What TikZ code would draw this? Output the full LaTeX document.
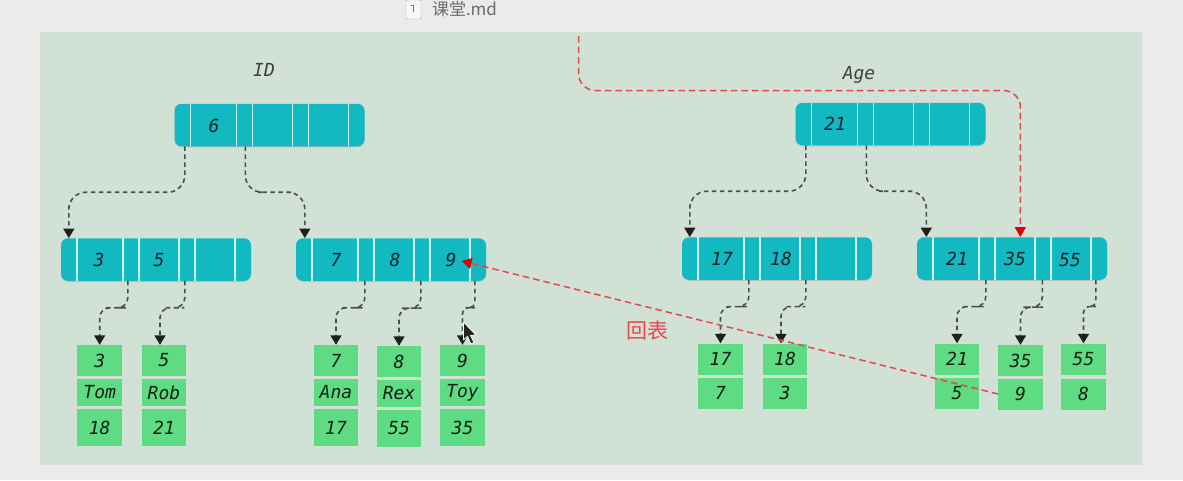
\documentclass[tikz,border=0pt]{standalone}
\usepackage{fontspec}
\setmonofont{DejaVu Sans Mono}
\newfontfamily\cjk{Noto Sans CJK SC}
\usetikzlibrary{arrows.meta,calc,shadows}

\definecolor{panelgreen}{HTML}{D1E1D6}
\definecolor{pagegray}{HTML}{EBEBEB}
\definecolor{pagecyan}{HTML}{12B9C1}
\definecolor{cellgreen}{HTML}{5FDB84}
\definecolor{ptrgray}{HTML}{4A4F4D}
\definecolor{backred}{HTML}{E8474A}

\tikzset{
  pagebox/.style={fill=pagecyan,rounded corners=7pt,minimum width=190pt,minimum height=42.5pt,
    inner sep=0pt,drop shadow={shadow xshift=0pt,shadow yshift=-1pt,opacity=.3}},
  keytext/.style={font=\ttfamily\itshape\fontsize{18}{20}\selectfont,text=black!80!pagecyan,inner sep=0pt},
  cellbox/.style={fill=cellgreen,minimum width=44.5pt,minimum height=#1,inner sep=0pt,
    font=\ttfamily\itshape\fontsize{18}{20}\selectfont,text=black!85!cellgreen},
  ptr/.style 2 args={draw=ptrgray,line width=1.6pt,dash pattern=on 4.5pt off 3.5pt,
    -{Triangle[width=11pt,length=9.5pt,color=black!88]},
    to path={[rounded corners=#1] (\tikztostart) |- ($(\tikztostart)!#2!(\tikztotarget)$) -| (\tikztotarget)}},
  rootptr/.style={ptr={17pt}{0.5}},
  leafptr/.style={ptr={10pt}{0.42}},
  tightptr/.style={ptr={5.5pt}{0.42}},
  backptr/.style={draw=backred,line width=1.5pt,dash pattern=on 6.5pt off 4pt,
    -{Triangle[width=11pt,length=10pt,color=red!90!black]}}
}

\begin{document}
\begin{tikzpicture}[x=1pt,y=-1pt]
  \useasboundingbox (0,0) rectangle (1183,480);
  \fill[pagegray] (0,0) rectangle (1183,480);
  \node[fill=panelgreen,minimum width=1102pt,minimum height=433pt,inner sep=0pt] (panel) at (591,248.5) {};

  % open file tab
  \draw[black!35,fill=white!60!pagegray,rounded corners=1pt] (406,0) rectangle (421,19);
  \draw[black!55,line width=.8pt] (413.5,12) -- (413.5,5) -- (411,5);
  \node[font=\cjk\fontsize{17}{18}\selectfont,text=black!58,inner sep=0pt] (tabname) at (464.5,9) {课堂.md};

  % titles
  \node[keytext,text=black!75] (idtitle) at (264,70) {ID};
  \node[keytext,text=black!75] (agetitle) at (859,75) {Age};

  % index pages
  \node[pagebox] (idroot) at (269.5,125) {};
  \node[pagebox] (idleft) at (156,259.5) {};
  \node[pagebox] (idright) at (391,259.5) {};
  \node[pagebox] (ageroot) at (890.5,124) {};
  \node[pagebox] (ageleft) at (777,258.5) {};
  \node[pagebox] (ageright) at (1012,258.5) {};

  \foreach \pg in {idroot,idleft,idright,ageroot,ageleft,ageright}
    \foreach \sep in {16,62,78,118,134,174}
      \draw[white!80!pagecyan,line width=1.6pt] ([xshift=\sep pt]\pg.south west) -- ([xshift=\sep pt]\pg.north west);

  \begin{scope}[every node/.style={keytext}]
    \node (k6)  at (214,126) {6};
    \node (k3)  at (99,260)  {3};
    \node (k5)  at (159,260) {5};
    \node (k7)  at (336,260) {7};
    \node (k8)  at (395,260) {8};
    \node (k9)  at (451,260) {9};
    \node (k21) at (835,124) {21};
    \node (k17) at (722,259) {17};
    \node (k18) at (781,259) {18};
    \node (m21) at (957,259) {21};
    \node (m35) at (1015,259) {35};
    \node (m55) at (1070,260) {55};
  \end{scope}

  % rows behind the clustered index
  \node[cellbox=31pt] (r3a) at (99.7,360.5) {3};
  \node[cellbox=27pt] (r3b) at (99.7,392.5) {Tom};
  \node[cellbox=37pt] (r3c) at (99.7,427.5) {18};
  \node[cellbox=31pt] (r5a) at (164,360.5) {5};
  \node[cellbox=27pt] (r5b) at (164,392.5) {Rob};
  \node[cellbox=37pt] (r5c) at (164,427.5) {21};
  \node[cellbox=31pt] (r7a) at (336,360.5) {7};
  \node[cellbox=27pt] (r7b) at (336,392.5) {Ana};
  \node[cellbox=37pt] (r7c) at (336,427.5) {17};
  \node[cellbox=31pt] (r8a) at (399,361.5) {8};
  \node[cellbox=27pt] (r8b) at (399,393.5) {Rex};
  \node[cellbox=37pt] (r8c) at (399,428.5) {55};
  \node[cellbox=31pt] (r9a) at (462.5,360.5) {9};
  \node[cellbox=27pt] (r9b) at (462.5,392.5) {Toy};
  \node[cellbox=37pt] (r9c) at (462.5,427.5) {35};

  % rows behind the age index
  \node[cellbox=31pt] (s17a) at (720.5,359) {17};
  \node[cellbox=31pt] (s17b) at (720.5,393) {7};
  \node[cellbox=31pt] (s18a) at (785,359) {18};
  \node[cellbox=31pt] (s18b) at (785,393) {3};
  \node[cellbox=31pt] (s21a) at (957,359) {21};
  \node[cellbox=31pt] (s21b) at (957,393) {5};
  \node[cellbox=31pt] (s35a) at (1020.5,360.5) {35};
  \node[cellbox=31pt] (s35b) at (1020.5,394) {9};
  \node[cellbox=31pt] (s55a) at (1083.5,359) {55};
  \node[cellbox=31pt] (s55b) at (1083.5,394) {8};

  % pointers
  \draw[rootptr] ([xshift=10.5pt]idroot.south west) to ([xshift=8pt]idleft.north west);
  \draw[rootptr] ([xshift=71pt]idroot.south west) to ([xshift=9pt]idright.north west);
  \draw[rootptr] ([xshift=10.5pt]ageroot.south west) to ([xshift=8pt]ageleft.north west);
  \draw[rootptr] ([xshift=71pt]ageroot.south west) to ([xshift=9.5pt]ageright.north west);
  \draw[leafptr] ([xshift=67pt]idleft.south west) to (r3a.north);
  \draw[leafptr] ([xshift=124pt]idleft.south west) to ([xshift=-4pt]r5a.north);
  \draw[leafptr] ([xshift=69pt]idright.south west) to (r7a.north);
  \draw[leafptr] ([xshift=125pt]idright.south west) to (r8a.north);
  \draw[tightptr] ([xshift=179pt]idright.south west) to (r9a.north);
  \draw[leafptr] ([xshift=67pt]ageleft.south west) to (s17a.north);
  \draw[leafptr] ([xshift=124pt]ageleft.south west) to ([xshift=-4pt]s18a.north);
  \draw[leafptr] ([xshift=69pt]ageright.south west) to (s21a.north);
  \draw[leafptr] ([xshift=125.5pt]ageright.south west) to (s35a.north);
  \draw[tightptr] ([xshift=179pt]ageright.south west) to (s55a.north);

  % lookup path
  \coordinate (lookup) at (578.5,36);
  \coordinate (lookupturn) at (1020.5,90.5);
  \draw[backptr,rounded corners=17pt] (lookup) |- (lookupturn) -- ([xshift=103.5pt]ageright.north west);
  \draw[backptr] (s35b.west) -- ([xshift=5pt,yshift=-1pt]k9.east);
  \node[font=\cjk\fontsize{21}{22}\selectfont,text=backred,inner sep=0pt] (backlabel) at (647,331) {回表};

  % mouse pointer
  \draw[white,line width=.8pt,fill=black!85,line join=round] (463.5,322) -- (463.5,340) -- (467.5,336.5) -- (471,344) -- (474,342.5) -- (470.5,335.5) -- (476,335) -- cycle;
\end{tikzpicture}
\end{document}
